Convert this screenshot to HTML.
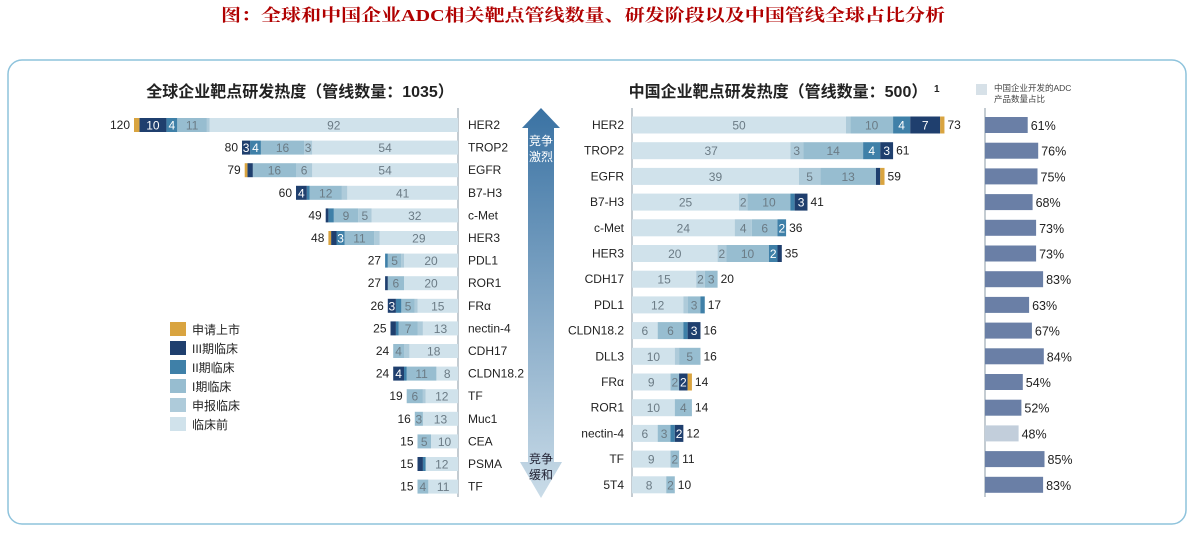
<!DOCTYPE html>
<html><head><meta charset="utf-8"><style>
body{margin:0;background:#fff;width:1194px;height:531px;overflow:hidden;font-family:"Liberation Sans","Noto Sans CJK SC",sans-serif}
svg text{font-family:"Liberation Sans","Noto Sans CJK SC",sans-serif}
</style></head><body>
<svg id="c" width="1194" height="531">
<defs><linearGradient id="ag" x1="0" y1="0" x2="0" y2="1"><stop offset="0" stop-color="#3a72a3"/><stop offset="1" stop-color="#cadce8"/></linearGradient></defs>
<text x="583" y="21" text-anchor="middle" font-size="17" font-weight="bold" fill="#b00000" textLength="724" lengthAdjust="spacingAndGlyphs" style="font-family:'Liberation Serif','Noto Serif CJK SC',serif">图：全球和中国企业ADC相关靶点管线数量、研发阶段以及中国管线全球占比分析</text>
<rect x="8" y="60" width="1178" height="464" rx="14" fill="#fff" stroke="#8ec3dc" stroke-width="1.5"/>
<text x="300" y="97" text-anchor="middle" font-size="16" font-weight="bold" fill="#222">全球企业靶点研发热度（管线数量：1035）</text>
<text x="778" y="97" text-anchor="middle" font-size="16" font-weight="bold" fill="#222">中国企业靶点研发热度（管线数量：500）</text>
<text x="934" y="92" font-size="10" font-weight="bold" fill="#222">1</text>
<rect x="976" y="84" width="11" height="11" fill="#d7e1e8"/>
<text x="994" y="91" font-size="8.5" fill="#444">中国企业开发的ADC</text>
<text x="994" y="102" font-size="8.5" fill="#444">产品数量占比</text>
<g>
<polygon points="541,108 560,128 554,128 554,462 562,462 541,498 520,462 528,462 528,128 522,128" fill="url(#ag)"/>
<text x="541" y="145" text-anchor="middle" font-size="12" fill="#fff">竞争</text>
<text x="541" y="161" text-anchor="middle" font-size="12" fill="#fff">激烈</text>
<text x="541" y="463" text-anchor="middle" font-size="12" fill="#223">竞争</text>
<text x="541" y="479" text-anchor="middle" font-size="12" fill="#223">缓和</text>
</g>
<line x1="458" y1="108" x2="458" y2="497" stroke="#8a9aa6"/>
<line x1="632" y1="108" x2="632" y2="497" stroke="#8a9aa6"/>
<line x1="985" y1="108" x2="985" y2="497" stroke="#8a9aa6"/>
<g id="legend"></g>
<g id="gl"></g><g id="cn"></g><g id="sh"></g>
</svg>
<script>
const stages=['临床前','申报临床','I期临床','II期临床','III期临床','申请上市'];
const colors=['#d0e2eb','#aecbda','#97bdd0','#3f80a8','#1f3f6e','#d9a440'];
const globalCats=['HER2','TROP2','EGFR','B7-H3','c-Met','HER3','PDL1','ROR1','FRα','nectin-4','CDH17','CLDN18.2','TF','Muc1','CEA','PSMA','TF'];
const globalPre=[92,54,54,41,32,29,20,20,15,13,18,8,12,13,10,12,11];
const globalFiling=[1,3,6,2,5,2,1,0,1,2,2,0,1,0,0,0,0];
const globalP1=[11,16,16,12,9,11,5,6,5,7,4,11,6,3,5,0,4];
const globalP2=[4,4,0,1,2,3,1,0,2,1,0,1,0,0,0,1,0];
const globalP3=[10,3,2,4,1,2,0,1,3,2,0,4,0,0,0,2,0];
const globalNda=[2,0,1,0,0,1,0,0,0,0,0,0,0,0,0,0,0];
const globalTotals=[120,80,79,60,49,48,27,27,26,25,24,24,19,16,15,15,15];
const cnCats=['HER2','TROP2','EGFR','B7-H3','c-Met','HER3','CDH17','PDL1','CLDN18.2','DLL3','FRα','ROR1','nectin-4','TF','5T4'];
const cnPre=[50,37,39,25,24,20,15,12,6,10,9,10,6,9,8];
const cnFiling=[1,3,5,2,4,2,2,1,0,1,0,0,0,0,0];
const cnP1=[10,14,13,10,6,10,3,3,6,5,2,4,3,2,2];
const cnP2=[4,4,0,1,2,2,0,1,1,0,0,0,1,0,0];
const cnP3=[7,3,1,3,0,1,0,0,3,0,2,0,2,0,0];
const cnNda=[1,0,1,0,0,0,0,0,0,0,1,0,0,0,0];
const cnTotals=[73,61,59,41,36,35,20,17,16,16,14,14,12,11,10];
const cnShare=[61,76,75,68,73,73,83,63,67,84,54,52,48,85,83];
const NS='http://www.w3.org/2000/svg';
function mk(p,t,a,txt){const e=document.createElementNS(NS,t);for(const k in a)e.setAttribute(k,a[k]);if(txt!==undefined)e.textContent=txt;p.appendChild(e);return e;}
const gx=v=>v*2.7, cx=v=>v*4.28, sx=v=>v*0.7;
const gy=i=>125+i*22.6, cy=i=>125+i*25.7;
const lg=document.getElementById('legend');
[5,4,3,2,1,0].forEach((s,k)=>{
 const r=mk(lg,'rect',{x:170,y:322+k*19,width:16,height:14,fill:colors[s]});
 
 
 const t=mk(lg,'text',{x:192,y:334+k*19,'font-size':12,fill:'#222'},stages[s]);
 
 
});
function drawStack(g,series,i,y,h,scale,dir,x0){
 let acc=0;
 series.forEach((arr,s)=>{
  const v=arr[i]; if(!v)return;
  const w=scale(v);
  const x=dir<0?x0-scale(acc)-w:x0+scale(acc);
  const r=mk(g,'rect',{x:x,y:y-h/2,width:w,height:h,fill:colors[s]});
  
  
  if(w>=7){const t=mk(g,'text',{x:x+w/2,y:y+4.5,'text-anchor':'middle','font-size':12,fill:s>=3?'#fff':'#6b7b85'},v);
   
   }
  acc+=v;
 });
 return acc;
}
const gg=document.getElementById('gl');
const gS=[globalPre,globalFiling,globalP1,globalP2,globalP3,globalNda];
globalCats.forEach((c,i)=>{
 const y=gy(i);
 const tot=drawStack(gg,gS,i,y,14,gx,-1,458);
 const t=mk(gg,'text',{x:468,y:y+4,'font-size':12,fill:'#222'},c);
 
 
 const v=mk(gg,'text',{x:458-gx(tot)-4,y:y+4,'text-anchor':'end','font-size':12,fill:'#222'},globalTotals[i]);
 
 
});
const cg=document.getElementById('cn');
const cS=[cnPre,cnFiling,cnP1,cnP2,cnP3,cnNda];
cnCats.forEach((c,i)=>{
 const y=cy(i);
 const tot=drawStack(cg,cS,i,y,17,cx,1,632);
 const t=mk(cg,'text',{x:624,y:y+4,'text-anchor':'end','font-size':12,fill:'#222'},c);
 
 
 const v=mk(cg,'text',{x:632+cx(tot)+3,y:y+4,'font-size':12,fill:'#222'},cnTotals[i]);
 
 
});
const sg=document.getElementById('sh');
cnShare.forEach((p,i)=>{
 const y=cy(i);
 const r=mk(sg,'rect',{x:985,y:y-8,width:sx(p),height:16,fill:p<50?'#c2cedb':'#6a7fa6'});
 
 
 const t=mk(sg,'text',{x:985+sx(p)+3,y:y+5,'font-size':12.5,fill:'#222'},p+'%');
 
 
});
</script>
</body></html>
